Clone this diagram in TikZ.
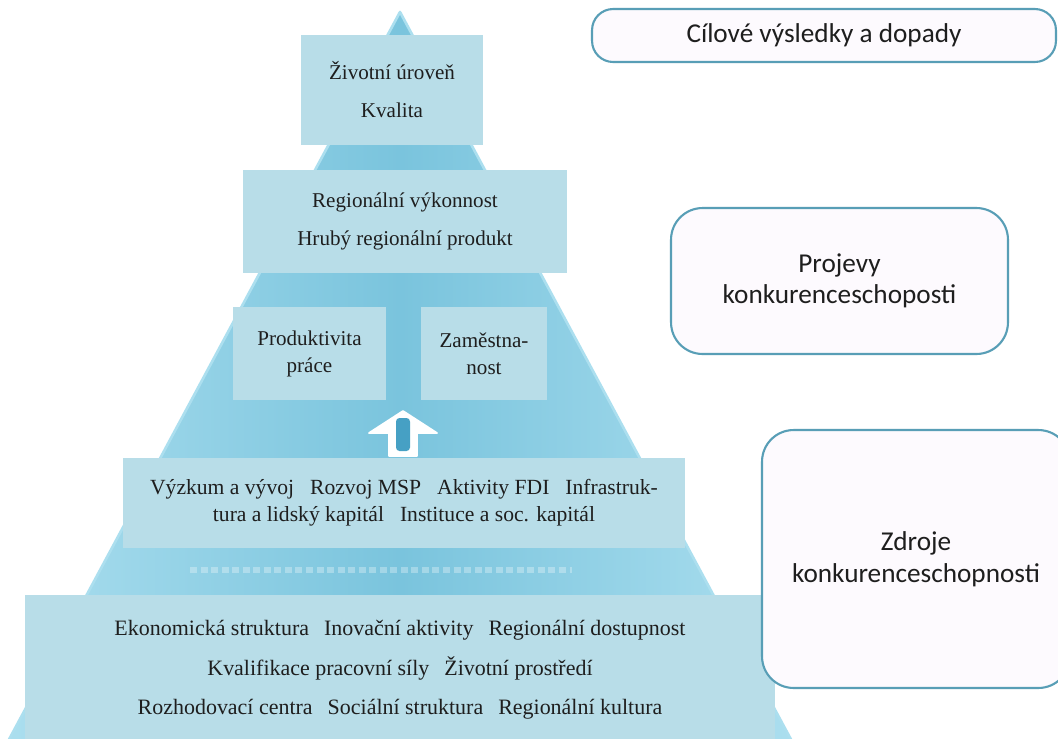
\documentclass[tikz,border=0pt]{standalone}
\usepackage{fontspec}
\setmainfont{Liberation Serif}
\newfontfamily\calibri{Carlito}
\definecolor{pyr}{RGB}{122,196,221}
\definecolor{pyredge}{RGB}{172,223,239}
\definecolor{boxfill}{RGB}{184,221,232}
\definecolor{rim}{RGB}{88,158,182}
\definecolor{pale}{RGB}{253,250,254}
\definecolor{ink}{RGB}{30,30,30}
\definecolor{arrowteal}{RGB}{70,160,196}
\tikzset{
  level/.style={fill=boxfill, text=ink, align=center, inner sep=0pt},
  tag/.style={draw=rim, line width=1.2pt, fill=pale, text=ink, align=center, rounded corners=18pt,
    font=\calibri\fontsize{15.5}{18}\selectfont},
}
\begin{document}
\begin{tikzpicture}[x=0.02cm, y=-0.02cm, line join=round]
    \clip (0,0) rectangle (1058,738);
    \fill[white] (0,0) rectangle (1058,738);
    \shade[left color=pyredge, right color=pyredge, middle color=pyr] (400,12) -- (802,760) -- (-2,760) -- cycle;
    \draw[pyredge, line width=1.5pt] (-2,760) -- (400,12) -- (802,760);
    \draw[white, opacity=0.3, line width=3pt, dash pattern=on 4pt off 2pt] (190,570) -- (572,570);
    \node[level, minimum width=3.64cm, minimum height=2.2cm, font=\fontsize{12}{21.6}\selectfont] (zivot) at (392,90)
        {Životní úroveň\\Kvalita};
    \node[level, minimum width=6.48cm, minimum height=2.06cm, font=\fontsize{12}{21.6}\selectfont] (vykon) at (405,221.5)
        {Regionální výkonnost\\Hrubý regionální produkt};
    \node[level, minimum width=3.06cm, minimum height=1.86cm, font=\fontsize{12}{15.4}\selectfont] (prod) at (309.5,353.5)
        {Produktivita\\práce};
    \node[level, minimum width=2.52cm, minimum height=1.86cm, font=\fontsize{12}{15.4}\selectfont] (zam) at (484,353.5)
        {Zaměstna-\\nost};
    \node[level, minimum width=11.24cm, minimum height=1.8cm, font=\fontsize{12.3}{15.4}\selectfont] (faktory) at (404,503)
        {Výzkum a vývoj\hspace{0.32cm}Rozvoj MSP\hspace{0.32cm}Aktivity FDI\hspace{0.32cm}Infrastruk-\\
         tura a lidský kapitál\hspace{0.32cm}Instituce a soc. kapitál};
    \node[level, minimum width=15cm, minimum height=3cm, font=\fontsize{12.5}{22.5}\selectfont] (zaklad) at (400,670)
        {Ekonomická struktura\hspace{0.3cm}Inovační aktivity\hspace{0.3cm}Regionální dostupnost\\
         Kvalifikace pracovní síly\hspace{0.3cm}Životní prostředí\\
         Rozhodovací centra\hspace{0.3cm}Sociální struktura\hspace{0.3cm}Regionální kultura};
    \coordinate (hrot) at (403,411);
    \fill[white, draw=white, line width=1pt] (hrot) -- (437,433) -- (417,433) -- (417,456)
        -- (389,456) -- (389,433) -- (369,433) -- cycle;
    \fill[arrowteal, rounded corners=2pt] (396,418) rectangle (410,451);
    \node[tag, rounded corners=12pt, minimum width=9.28cm, minimum height=1.06cm] (cil) at (824,35.5)
        {Cílové výsledky a dopady};
    \node[tag, minimum width=6.74cm, minimum height=2.92cm] (projevy) at (839.5,281)
        {Projevy\\konkurenceschoposti};
    \node[tag, minimum width=6.16cm, minimum height=5.16cm] (zdroje) at (916,559)
        {Zdroje\\konkurenceschopnosti};
\end{tikzpicture}
\end{document}
